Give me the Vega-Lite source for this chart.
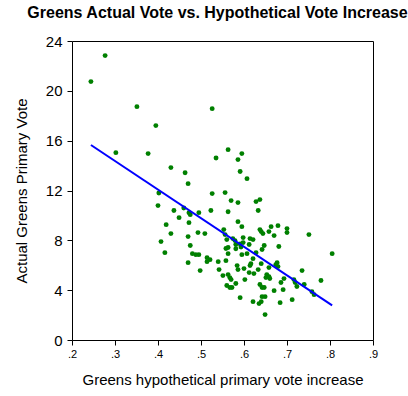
{
  "$schema": "https://vega.github.io/schema/vega-lite/v6.json",
  "width": 301,
  "height": 299,
  "autosize": "none",
  "padding": {"left": 72, "top": 41, "right": 35, "bottom": 56},
  "background": "white",
  "title": {"text": "Greens Actual Vote vs. Hypothetical Vote Increase", "font": "Liberation Sans", "fontSize": 16, "fontWeight": "bold", "color": "black", "anchor": "middle", "frame": "group", "dx": -5, "offset": 13},
  "config": {
    "view": {"stroke": "black", "strokeWidth": 1},
    "axis": {"domain": false, "grid": false, "ticks": true, "tickColor": "black", "tickSize": 5, "labelColor": "black", "labelFont": "Liberation Sans", "titleFont": "Liberation Sans", "titleColor": "black", "titleFontWeight": "normal", "titleFontSize": 15}
  },
  "data": {"values": [
    {"hyp": 0.244, "actual": 20.74}, {"hyp": 0.277, "actual": 22.83}, {"hyp": 0.302, "actual": 15.04}, {"hyp": 0.351, "actual": 18.73},
    {"hyp": 0.395, "actual": 17.21}, {"hyp": 0.377, "actual": 14.96}, {"hyp": 0.430, "actual": 13.84}, {"hyp": 0.463, "actual": 13.43},
    {"hyp": 0.470, "actual": 12.55}, {"hyp": 0.402, "actual": 11.80}, {"hyp": 0.526, "actual": 18.57}, {"hyp": 0.563, "actual": 15.28},
    {"hyp": 0.535, "actual": 14.61}, {"hyp": 0.595, "actual": 14.96}, {"hyp": 0.586, "actual": 14.48}, {"hyp": 0.591, "actual": 13.52},
    {"hyp": 0.607, "actual": 12.95}, {"hyp": 0.526, "actual": 11.75}, {"hyp": 0.556, "actual": 11.83}, {"hyp": 0.628, "actual": 11.11},
    {"hyp": 0.637, "actual": 11.27}, {"hyp": 0.570, "actual": 11.19}, {"hyp": 0.586, "actual": 11.03}, {"hyp": 0.400, "actual": 10.79},
    {"hyp": 0.437, "actual": 10.39}, {"hyp": 0.419, "actual": 9.26}, {"hyp": 0.449, "actual": 9.82}, {"hyp": 0.460, "actual": 10.59},
    {"hyp": 0.472, "actual": 10.22}, {"hyp": 0.475, "actual": 10.06}, {"hyp": 0.495, "actual": 10.22}, {"hyp": 0.472, "actual": 9.42},
    {"hyp": 0.430, "actual": 8.54}, {"hyp": 0.470, "actual": 8.30}, {"hyp": 0.493, "actual": 8.62}, {"hyp": 0.509, "actual": 8.54},
    {"hyp": 0.407, "actual": 7.90}, {"hyp": 0.475, "actual": 7.58}, {"hyp": 0.416, "actual": 7.01}, {"hyp": 0.480, "actual": 6.93},
    {"hyp": 0.488, "actual": 6.85}, {"hyp": 0.495, "actual": 6.85}, {"hyp": 0.470, "actual": 6.21}, {"hyp": 0.498, "actual": 5.57},
    {"hyp": 0.514, "actual": 6.61}, {"hyp": 0.521, "actual": 6.45}, {"hyp": 0.514, "actual": 6.29}, {"hyp": 0.523, "actual": 10.39},
    {"hyp": 0.563, "actual": 10.30}, {"hyp": 0.586, "actual": 9.50}, {"hyp": 0.553, "actual": 8.86}, {"hyp": 0.633, "actual": 10.39},
    {"hyp": 0.595, "actual": 9.10}, {"hyp": 0.637, "actual": 8.86}, {"hyp": 0.663, "actual": 9.10}, {"hyp": 0.679, "actual": 9.18},
    {"hyp": 0.700, "actual": 8.94}, {"hyp": 0.700, "actual": 8.62}, {"hyp": 0.640, "actual": 8.70}, {"hyp": 0.644, "actual": 8.54},
    {"hyp": 0.658, "actual": 8.70}, {"hyp": 0.670, "actual": 8.38}, {"hyp": 0.751, "actual": 8.46}, {"hyp": 0.805, "actual": 6.93},
    {"hyp": 0.556, "actual": 8.46}, {"hyp": 0.560, "actual": 8.06}, {"hyp": 0.574, "actual": 8.14}, {"hyp": 0.579, "actual": 7.98},
    {"hyp": 0.598, "actual": 8.22}, {"hyp": 0.614, "actual": 8.14}, {"hyp": 0.621, "actual": 8.06}, {"hyp": 0.598, "actual": 7.82},
    {"hyp": 0.581, "actual": 7.66}, {"hyp": 0.591, "actual": 7.70}, {"hyp": 0.581, "actual": 7.32}, {"hyp": 0.593, "actual": 7.46},
    {"hyp": 0.558, "actual": 7.34}, {"hyp": 0.563, "actual": 7.42}, {"hyp": 0.612, "actual": 7.66}, {"hyp": 0.607, "actual": 6.93},
    {"hyp": 0.595, "actual": 6.85}, {"hyp": 0.628, "actual": 7.01}, {"hyp": 0.642, "actual": 7.26}, {"hyp": 0.647, "actual": 7.58},
    {"hyp": 0.681, "actual": 7.50}, {"hyp": 0.563, "actual": 6.93}, {"hyp": 0.540, "actual": 6.29}, {"hyp": 0.558, "actual": 6.37},
    {"hyp": 0.621, "actual": 6.53}, {"hyp": 0.616, "actual": 6.13}, {"hyp": 0.614, "actual": 5.97}, {"hyp": 0.640, "actual": 6.13},
    {"hyp": 0.584, "actual": 5.97}, {"hyp": 0.586, "actual": 5.65}, {"hyp": 0.600, "actual": 5.73}, {"hyp": 0.612, "actual": 5.41},
    {"hyp": 0.623, "actual": 5.33}, {"hyp": 0.633, "actual": 5.65}, {"hyp": 0.658, "actual": 5.81}, {"hyp": 0.677, "actual": 6.21},
    {"hyp": 0.674, "actual": 6.05}, {"hyp": 0.679, "actual": 5.89}, {"hyp": 0.653, "actual": 5.25}, {"hyp": 0.658, "actual": 5.09},
    {"hyp": 0.651, "actual": 5.01}, {"hyp": 0.660, "actual": 4.93}, {"hyp": 0.693, "actual": 4.93}, {"hyp": 0.686, "actual": 4.61},
    {"hyp": 0.716, "actual": 4.85}, {"hyp": 0.719, "actual": 4.61}, {"hyp": 0.723, "actual": 4.29}, {"hyp": 0.740, "actual": 4.45},
    {"hyp": 0.735, "actual": 5.57}, {"hyp": 0.779, "actual": 4.77}, {"hyp": 0.758, "actual": 3.88}, {"hyp": 0.763, "actual": 3.64},
    {"hyp": 0.602, "actual": 4.85}, {"hyp": 0.581, "actual": 4.53}, {"hyp": 0.637, "actual": 4.45}, {"hyp": 0.642, "actual": 4.21},
    {"hyp": 0.647, "actual": 4.21}, {"hyp": 0.670, "actual": 3.96}, {"hyp": 0.691, "actual": 4.04}, {"hyp": 0.712, "actual": 3.24},
    {"hyp": 0.591, "actual": 3.40}, {"hyp": 0.621, "actual": 3.08}, {"hyp": 0.642, "actual": 3.48}, {"hyp": 0.649, "actual": 3.48},
    {"hyp": 0.640, "actual": 3.08}, {"hyp": 0.635, "actual": 2.92}, {"hyp": 0.684, "actual": 3.00}, {"hyp": 0.649, "actual": 2.04},
    {"hyp": 0.542, "actual": 5.65}, {"hyp": 0.551, "actual": 5.17}, {"hyp": 0.563, "actual": 5.25}, {"hyp": 0.567, "actual": 5.01},
    {"hyp": 0.570, "actual": 4.85}, {"hyp": 0.560, "actual": 4.37}, {"hyp": 0.572, "actual": 4.21}, {"hyp": 0.567, "actual": 4.21}
  ]},
  "encoding": {
    "x": {"field": "hyp", "type": "quantitative", "scale": {"domain": [0.2, 0.9], "nice": false, "zero": false},
      "axis": {"title": "Greens hypothetical primary vote increase", "values": [0.2, 0.3, 0.4, 0.5, 0.6, 0.7, 0.8, 0.9], "labelExpr": "substring(format(datum.value, '.1f'), 1)", "labelFontSize": 11, "labelPadding": 3, "titlePadding": 13, "labelFlush": false}},
    "y": {"field": "actual", "type": "quantitative", "scale": {"domain": [0, 24], "nice": false},
      "axis": {"title": "Actual Greens Primary Vote", "values": [0, 4, 8, 12, 16, 20, 24], "labelFontSize": 15, "labelPadding": 5, "titlePadding": 16, "labelFlush": false}}
  },
  "layer": [
    {"mark": {"type": "circle", "size": 24, "color": "#008000", "opacity": 1}},
    {"transform": [{"regression": "actual", "on": "hyp"}], "mark": {"type": "line", "color": "#0000ff", "strokeWidth": 2}}
  ]
}
